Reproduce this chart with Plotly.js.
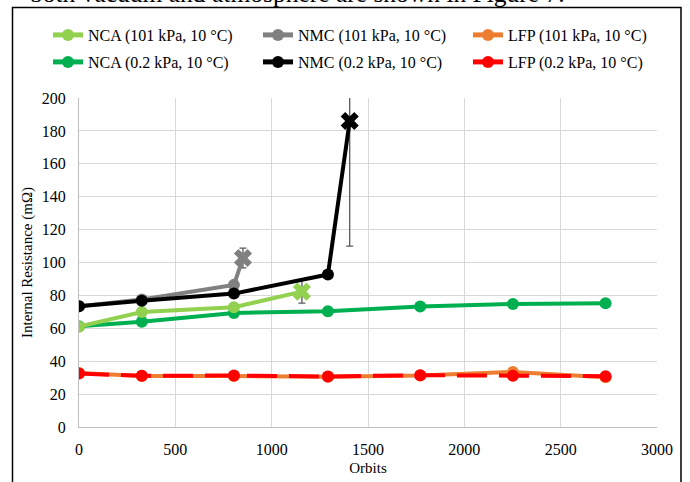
<!DOCTYPE html>
<html>
<head>
<meta charset="utf-8">
<script src="https://cdn.plot.ly/plotly-3.0.1.min.js"></script>
<style>html,body{margin:0;padding:0;background:#fff;}#chart{width:690px;height:482px;}</style>
</head>
<body>
<div id="chart"></div>
<script>
// ---- data ----
const orbitsLong = [0, 326, 804, 1292, 1771, 2252, 2733];
const ncaAtmOrbits = [0, 326, 804, 1157];
const ncaAtmR = [61, 69.9, 72.8, 82.3];
const ncaAtmErr = [null, null, null, 7];
const nmcAtmOrbits = [0, 326, 804, 851];
const nmcAtmR = [73.4, 77.5, 86.4, 102.7];
const nmcAtmErr = [null, null, null, 6];
const lfpAtmR = [32.8, 31.0, 31.0, 30.5, 31.3, 33.5, 30.3];
const ncaVacR = [61.3, 64.0, 69.3, 70.4, 73.2, 74.8, 75.2];
const nmcVacOrbits = [0, 326, 804, 1292, 1405];
const nmcVacR = [73.4, 76.8, 81.1, 92.7, 186];
const nmcVacErr = [null, null, null, null, 76];
const lfpVacR = [32.5, 31.1, 31.3, 30.7, 31.5, 31.1, 30.9];
const names = ['NCA (101 kPa, 10 °C)', 'NMC (101 kPa, 10 °C)', 'LFP (101 kPa, 10 °C)',
               'NCA (0.2 kPa, 10 °C)', 'NMC (0.2 kPa, 10 °C)', 'LFP (0.2 kPa, 10 °C)'];
const xTicks = [0, 500, 1000, 1500, 2000, 2500, 3000];
const yTicks = [0, 20, 40, 60, 80, 100, 120, 140, 160, 180, 200];

const FONT = 'Liberation Serif, Times New Roman, serif';
function symbols(n) { const s = []; for (let i = 0; i < n; i++) s.push(i === n - 1 ? 'x' : 'circle'); return s; }
function sizes(n, last) { const s = []; for (let i = 0; i < n; i++) s.push(i === n - 1 ? last : 12); return s; }
function errBar(arr) { return {type: 'data', array: arr, visible: true, color: '#595959', thickness: 1.3, width: 3.5}; }
function mk(color, n, withX) {
  const m = {color: color, opacity: 1, line: {width: 0}};
  if (withX) { m.size = sizes(n, 16); m.symbol = symbols(n); } else { m.size = 12; }
  return m;
}

const traces = [
  {x: orbitsLong, y: lfpAtmR, name: names[2], legend: 'legend3',
   mode: 'lines+markers', line: {color: '#ED7D31', width: 4}, marker: mk('#ED7D31', 7, false)},
  {x: orbitsLong, y: lfpVacR, name: names[5], legend: 'legend6',
   mode: 'lines+markers', line: {color: '#FF0000', width: 4, dash: '30px,12px'}, marker: mk('#FF0000', 7, false)},
  {x: orbitsLong, y: ncaVacR, name: names[3], legend: 'legend4',
   mode: 'lines+markers', line: {color: '#00B050', width: 4}, marker: mk('#00B050', 7, false)},
  {x: ncaAtmOrbits, y: ncaAtmR, name: names[0], legend: 'legend',
   mode: 'lines+markers', line: {color: '#92D050', width: 4},
   marker: mk('#92D050', ncaAtmR.length, true), error_y: errBar(ncaAtmErr)},
  {x: nmcAtmOrbits, y: nmcAtmR, name: names[1], legend: 'legend2',
   mode: 'lines+markers', line: {color: '#808080', width: 4},
   marker: mk('#808080', nmcAtmR.length, true), error_y: errBar(nmcAtmErr)},
  {x: nmcVacOrbits, y: nmcVacR, name: names[4], legend: 'legend5',
   mode: 'lines+markers', line: {color: '#000000', width: 4},
   marker: mk('#000000', nmcVacR.length, true), error_y: errBar(nmcVacErr)}
];

const L = 79, R = 33, T = 98, B = 55, W = 690, H = 482;
const pw = W - L - R, ph = H - T - B;
const px = v => (v - L) / pw;
const py = v => (H - B - v) / ph;

function leg(xPix, yPix) {
  return {orientation: 'h', xref: 'container', yref: 'container', x: xPix / W, xanchor: 'left',
    y: 1 - yPix / H, yanchor: 'middle', bgcolor: 'rgba(0,0,0,0)',
    font: {family: FONT, size: 16, color: '#000'}, itemsizing: 'constant'};
}

const layout = {
  width: W, height: H,
  margin: {l: L, r: R, t: T, b: B, pad: 0},
  paper_bgcolor: '#ffffff', plot_bgcolor: '#ffffff',
  font: {family: FONT, size: 15, color: '#000'},
  showlegend: true,
  legend: leg(48, 35), legend2: leg(258, 35), legend3: leg(468, 35),
  legend4: leg(48, 62), legend5: leg(258, 62), legend6: leg(468, 62),
  xaxis: {range: [0, 3000], tickvals: xTicks, ticktext: xTicks.map(String), showgrid: true, gridcolor: '#D9D9D9',
    gridwidth: 1, zeroline: false, showline: true, linecolor: '#BFBFBF', linewidth: 1, ticks: '',
    ticklabelstandoff: 8, tickfont: {family: FONT, size: 16, color: '#000'},
    title: {text: 'Orbits', font: {family: FONT, size: 15, color: '#000'}, standoff: 5}},
  yaxis: {range: [0, 200], tickvals: yTicks, ticktext: yTicks.map(String), showgrid: true, gridcolor: '#D9D9D9',
    gridwidth: 1, zeroline: false, showline: true, linecolor: '#BFBFBF', linewidth: 1, ticks: '',
    ticklabelstandoff: 9, tickfont: {family: FONT, size: 16, color: '#000'},
    title: {text: 'Internal Resistance (mΩ)', font: {family: FONT, size: 15, color: '#000'}, standoff: 5}},
  shapes: [
    {type: 'rect', xref: 'paper', yref: 'paper', x0: px(12.5), x1: px(681), y0: py(490), y1: py(7.5),
     line: {color: '#000', width: 1.5}, fillcolor: 'rgba(0,0,0,0)', layer: 'above'}
  ],
  annotations: [
    {xref: 'paper', yref: 'paper', x: px(28), xanchor: 'left', y: py(-6), yanchor: 'middle', showarrow: false,
     text: 'both vacuum and atmosphere are shown in Figure 7.', font: {family: FONT, size: 25.5, color: '#000'}}
  ]
};

Plotly.newPlot('chart', traces, layout, {displayModeBar: false, staticPlot: true});
</script>
</body>
</html>
